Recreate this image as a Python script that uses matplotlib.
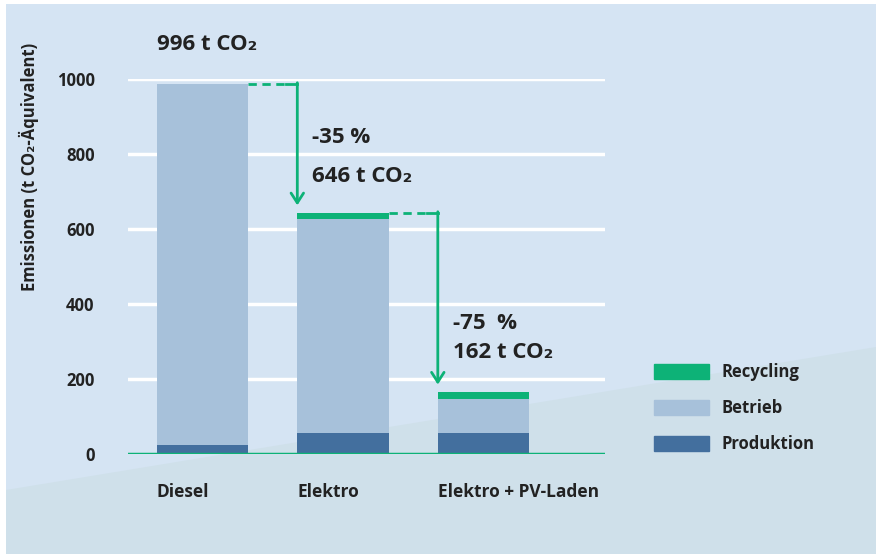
import matplotlib.pyplot as plt
from matplotlib.patches import Patch, Polygon, Rectangle
import numpy as np

plt.rcParams['font.family'] = ['Open Sans', 'DejaVu Sans']
plt.rcParams['font.weight'] = 'bold'

# data
categories = ['Diesel', 'Elektro', 'Elektro + PV-Laden']
produktion = [25, 56, 56]
betrieb = [962, 571, 91]
recycling = [0, 16, 18]
total_labels = ['996 t CO₂', '646 t CO₂', '162 t CO₂']
change_labels = ['', '-35 %', '-75  %']

c_prod = '#436f9e'
c_betr = '#a7c1da'
c_rec = '#0db277'
c_text = '#222222'

fig = plt.figure(figsize=(8.76, 5.54), dpi=100)
fig.patch.set_facecolor('white')
# background panel with lighter diagonal band at the bottom
fig.patches.append(Rectangle((6 / 876, 0), 1, 550 / 554, transform=fig.transFigure,
                             facecolor='#d5e4f3', edgecolor='none', zorder=-10))
fig.patches.append(Polygon([(6 / 876, 0), (6 / 876, 64 / 554), (1, 207 / 554), (1, 0)],
                           closed=True, transform=fig.transFigure,
                           facecolor='#cfe0ea', edgecolor='none', zorder=-9))

ax = fig.add_axes([128 / 876, 100 / 554, 477 / 876, 375 / 554])
ax.set_facecolor('none')

x = np.arange(len(categories))
w = 0.65
prod = np.array(produktion)
betr = np.array(betrieb)
rec = np.array(recycling)
tops = prod + betr + rec

ax.bar(x, prod, w, color=c_prod, zorder=3)
ax.bar(x, betr, w, bottom=prod, color=c_betr, zorder=3)
ax.bar(x, rec, w, bottom=prod + betr, color=c_rec, zorder=3)

ax.set_xlim(-0.53, 2.865)
ax.set_ylim(0, 1000)
ax.set_yticks([0, 200, 400, 600, 800, 1000])
for yv in [200, 400, 600, 800, 1000]:
    ax.axhline(yv, color='white', lw=2.5, zorder=1)
ax.axhline(0, color=c_rec, lw=2.5, zorder=4)

for s in ax.spines.values():
    s.set_visible(False)
ax.tick_params(axis='y', length=0, pad=24, labelsize=12, labelcolor=c_text)
ax.set_xticks([])
for xi, cat in zip(x, categories):
    ax.text(xi - w / 2, -101, cat, ha='left', va='center', fontsize=12.5,
            color=c_text, clip_on=False)

ax.set_ylabel('Emissionen (t CO₂-Äquivalent)', fontsize=12, color=c_text,
              fontweight='bold')
ax.yaxis.set_label_coords(-0.187, 0.765)

# arrows between bars
for i in range(len(categories) - 1):
    xs = x[i] + w / 2
    xe = x[i + 1] - w / 2
    y0 = tops[i]
    ax.plot([xs, xe - 0.08], [y0, y0], color=c_rec, lw=2, ls=(0, (3, 2)), zorder=4,
            clip_on=False)
    ax.plot([xe - 0.08, xe], [y0, y0], color=c_rec, lw=2, zorder=4, clip_on=False)
    ax.annotate('', xy=(xe, tops[i + 1] + 20), xytext=(xe, y0 + 3),
                arrowprops=dict(arrowstyle='->,head_length=0.7,head_width=0.45',
                                color=c_rec, lw=2, shrinkA=0, shrinkB=0),
                annotation_clip=False, zorder=4)

ax.text(x[0] - w / 2, 1093, total_labels[0], ha='left', va='center', fontsize=16,
        color=c_text, clip_on=False)
ax.text(0.78, 843, change_labels[1], ha='left', va='center', fontsize=16, color=c_text)
ax.text(0.78, 739, total_labels[1], ha='left', va='center', fontsize=16, color=c_text)
ax.text(1.78, 349, change_labels[2], ha='left', va='center', fontsize=16, color=c_text)
ax.text(1.78, 272, total_labels[2], ha='left', va='center', fontsize=16, color=c_text)

handles = [Patch(color=c_rec, label='Recycling'),
           Patch(color=c_betr, label='Betrieb'),
           Patch(color=c_prod, label='Produktion')]
fig.legend(handles=handles, loc='upper left', bbox_to_anchor=(639 / 876, 1 - 348 / 554),
           frameon=False, fontsize=12, handlelength=3.3, handleheight=1.0,
           labelspacing=1.08, handletextpad=0.75, labelcolor=c_text)

fig.savefig('out.png', dpi=100)
